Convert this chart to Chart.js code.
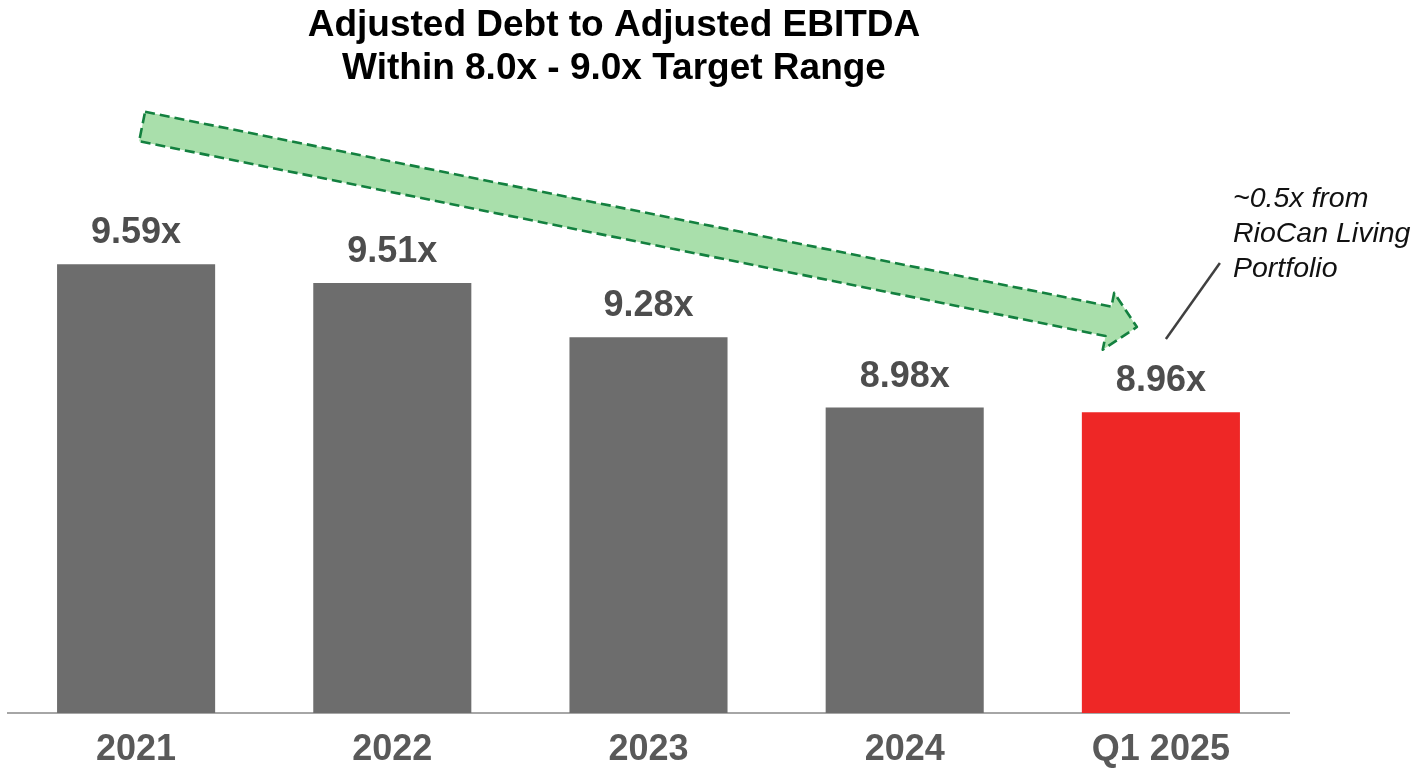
<!DOCTYPE html>
<html>
<head>
<meta charset="utf-8">
<script src="https://cdn.jsdelivr.net/npm/chart.js@4/dist/chart.umd.min.js"></script>
<style>
  html, body { margin: 0; padding: 0; background: #fff; }
  #chart { display: block; }
</style>
</head>
<body>
<canvas id="chart" width="1419" height="768"></canvas>
<script>
const categories = ["2021", "2022", "2023", "2024", "Q1 2025"];
const ratios = [9.59, 9.51, 9.28, 8.98, 8.96];
const titleLines = ["Adjusted Debt to Adjusted EBITDA", "Within 8.0x - 9.0x Target Range"];
const noteLines = ["~0.5x from", "RioCan Living", "Portfolio"];

const FONT = "'Liberation Sans', Arial, sans-serif";
const GREY = "#6d6d6d";
const RED = "#ee2726";

// value labels, trend arrow, title and the side note
const decorations = {
  id: "decorations",
  afterDatasetsDraw: (chart) => {
    const { ctx, chartArea } = chart;
    const x = chart.scales.x;
    const y = chart.scales.y;

    ctx.save();

    // trend arrow from the first bar to the last
    const sx = x.getPixelForValue(0) + 6;
    const sy = chartArea.top - 41.5;
    const tx = x.getPixelForValue(categories.length - 1) - 24;
    const ty = chartArea.top + 159;
    const len = Math.hypot(tx - sx, ty - sy);
    const ux = (tx - sx) / len;
    const uy = (ty - sy) / len;
    const nx = -uy;
    const ny = ux;
    const shaft = 15;
    const head = 29;
    const headLen = 29;
    const pt = (a, n) => [sx + ux * a + nx * n, sy + uy * a + ny * n];
    const pts = [
      pt(0, -shaft),
      pt(len - headLen, -shaft),
      pt(len - headLen, -head),
      pt(len, 0),
      pt(len - headLen, head),
      pt(len - headLen, shaft),
      pt(0, shaft),
    ];
    ctx.beginPath();
    pts.forEach(([px, py], i) => (i ? ctx.lineTo(px, py) : ctx.moveTo(px, py)));
    ctx.closePath();
    ctx.fillStyle = "#a9dfab";
    ctx.fill();
    ctx.setLineDash([10, 5]);
    ctx.lineWidth = 2.6;
    ctx.lineJoin = "round";
    ctx.strokeStyle = "#13803f";
    ctx.stroke();
    ctx.setLineDash([]);

    // value labels above the bars
    ctx.font = `bold 36px ${FONT}`;
    ctx.fillStyle = "#4d4d4d";
    ctx.textAlign = "center";
    ctx.textBaseline = "alphabetic";
    ratios.forEach((v, i) => {
      ctx.fillText(`${v.toFixed(2)}x`, x.getPixelForValue(i), y.getPixelForValue(v) - 21);
    });

    // title
    ctx.font = `bold 37px ${FONT}`;
    ctx.fillStyle = "#000";
    titleLines.forEach((line, i) => ctx.fillText(line, 614, 36 + i * 43));

    // leader line and note for the last bar
    const lx = x.getPixelForValue(categories.length - 1);
    ctx.beginPath();
    ctx.moveTo(lx + 5, 339);
    ctx.lineTo(lx + 59, 263);
    ctx.lineWidth = 2.5;
    ctx.strokeStyle = "#404040";
    ctx.stroke();

    ctx.font = `italic 28.5px ${FONT}`;
    ctx.fillStyle = "#111";
    ctx.textAlign = "left";
    noteLines.forEach((line, i) => ctx.fillText(line, 1233, 207 + i * 35));

    ctx.restore();
  },
};

new Chart(document.getElementById("chart").getContext("2d"), {
  type: "bar",
  data: {
    labels: categories,
    datasets: [
      {
        data: ratios,
        backgroundColor: ratios.map((_, i) => (i === ratios.length - 1 ? RED : GREY)),
        borderWidth: 0,
        barPercentage: 1,
        categoryPercentage: 0.617,
      },
    ],
  },
  options: {
    responsive: false,
    animation: false,
    layout: {
      padding: { top: 168, left: 8, right: 130, bottom: -19 },
    },
    plugins: {
      legend: { display: false },
      tooltip: { enabled: false },
      title: { display: false },
    },
    scales: {
      x: {
        grid: { display: false, drawTicks: false },
        border: { display: true, color: "#a6a6a6", width: 2 },
        ticks: {
          color: "#595959",
          padding: 19,
          font: { family: FONT, size: 36, weight: "bold", lineHeight: 1 },
        },
      },
      y: {
        display: false,
        min: 7.68,
        max: 10,
      },
    },
  },
  plugins: [decorations],
});
</script>
</body>
</html>
